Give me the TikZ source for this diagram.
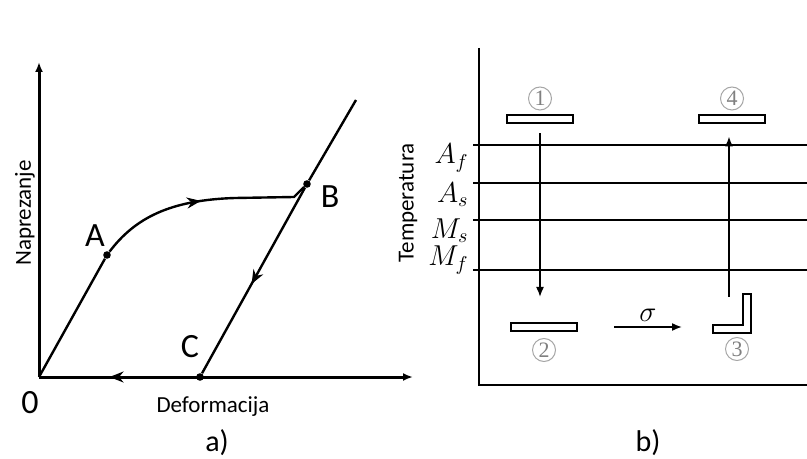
\documentclass[tikz,border=0pt]{standalone}
\usepackage{fontspec}
\setmainfont{Carlito}
\newfontfamily\numfont{Liberation Serif}
\usetikzlibrary{positioning,calc,arrows.meta,decorations.markings}

\begin{document}
\begin{tikzpicture}[x=0.5pt, y=-0.5pt, >={Latex[length=5pt,width=4pt]}, axis/.style={line width=1.5pt, ->}, curve/.style={line width=1.2pt}, level/.style={line width=0.7pt}, dot/.style={circle, fill, inner sep=0pt, minimum size=3.8pt}, bar/.style={draw, line width=1pt, minimum width=33pt, minimum height=4pt, inner sep=0pt}, num/.style={circle, draw=gray!70, line width=0.5pt, minimum size=11.5pt, inner sep=0pt, text=gray, font=\numfont\fontsize{11}{11}\selectfont}, pt/.style={font=\fontsize{17}{17}\selectfont}, ttl/.style={font=\fontsize{11.5}{12}\selectfont}, midarrow/.style={postaction={decorate, decoration={markings, mark=at position #1 with {\arrow{Stealth[length=7pt,width=5.5pt]}}}}}, flow/.style={line width=0.8pt, ->}]

\useasboundingbox (0,0) rectangle (807,459);

% a)
\coordinate (O) at (39,377);
\coordinate (ytop) at (39,62);
\coordinate (xend) at (413,377);
\coordinate (Bend) at (356,100);
\node[dot] (A) at (107,255) {};
\node[dot] (B) at (307,184) {};
\node[dot] (C) at (200,377) {};

\draw[axis] (O) -- (ytop);
\draw[axis] (O) -- (xend);
\draw[curve] (O) -- (A);
\draw[curve, midarrow=0.5] (A) .. controls (135,218) and (170,200) .. (235,198) -- (294,197) -- (B);
\draw[curve] (Bend) -- (B);
\draw[curve, midarrow=0.52] (B) -- (C);
\draw[curve, midarrow=0.55] (C) -- (O);

\node[pt] (lA) at (95,236) {A};
\node[pt] (lB) at (330,197) {B};
\node[pt] (lC) at (190,347) {C};
\node[pt] (l0) at (30,403) {0};
\node[ttl, rotate=90] (ya) at (25,213) {Naprezanje};
\node[ttl] (xa) at (213,407) {Deformacija};
\node[font=\fontsize{15}{15}\selectfont] (ta) at (217,443) {a)};

% b)
\coordinate (btop) at (479,48);
\coordinate (bO) at (479,385);
\coordinate (bright) at (807,385);
\draw[line width=1pt] (btop) -- (bO) -- (bright);
\foreach \y/\lab/\ly in {145/A_f/158, 183/A_s/195, 220/M_s/231, 270/M_f/260} {
  \draw[level] (473,\y) -- (807,\y);
  \node[anchor=east, inner sep=0pt, font=\fontsize{14}{14}\selectfont] (T\y) at (469,\ly) {$\lab$};
}
\node[ttl, rotate=90] (yb) at (408,203) {Temperatura};

\node[bar] (s1) at (540,119.5) {};
\node[bar] (s4) at (732,119.5) {};
\node[bar] (s2) at (544,327) {};
\draw[line width=1pt] (713,325) -- (743,325) -- (743,294) -- (751,294) -- (751,333) -- (713,333) -- cycle;
\coordinate (s3) at (713,327);
\coordinate (up0) at (729,297);

\node[num, above=2pt of s1] (n1) {1};
\node[num, above=2pt of s4] (n4) {4};
\node[num, below=3pt of s2] (n2) {2};
\node[num] (n3) at (737,349) {3};

\draw[flow] ([yshift=-4.5pt]s1.south) -- ([yshift=12.5pt]s1.south |- s2.north);
\draw[flow] (up0) -- ([yshift=-6pt]up0 |- s4.south);
\draw[flow] ([xshift=18pt]s2.east) -- node[above=-1pt, font=\fontsize{14}{14}\selectfont] (sig) {$\sigma$} ([xshift=-15.5pt]s3);

\node[font=\fontsize{15}{15}\selectfont] (tb) at (648,443) {b)};
\end{tikzpicture}
\end{document}
